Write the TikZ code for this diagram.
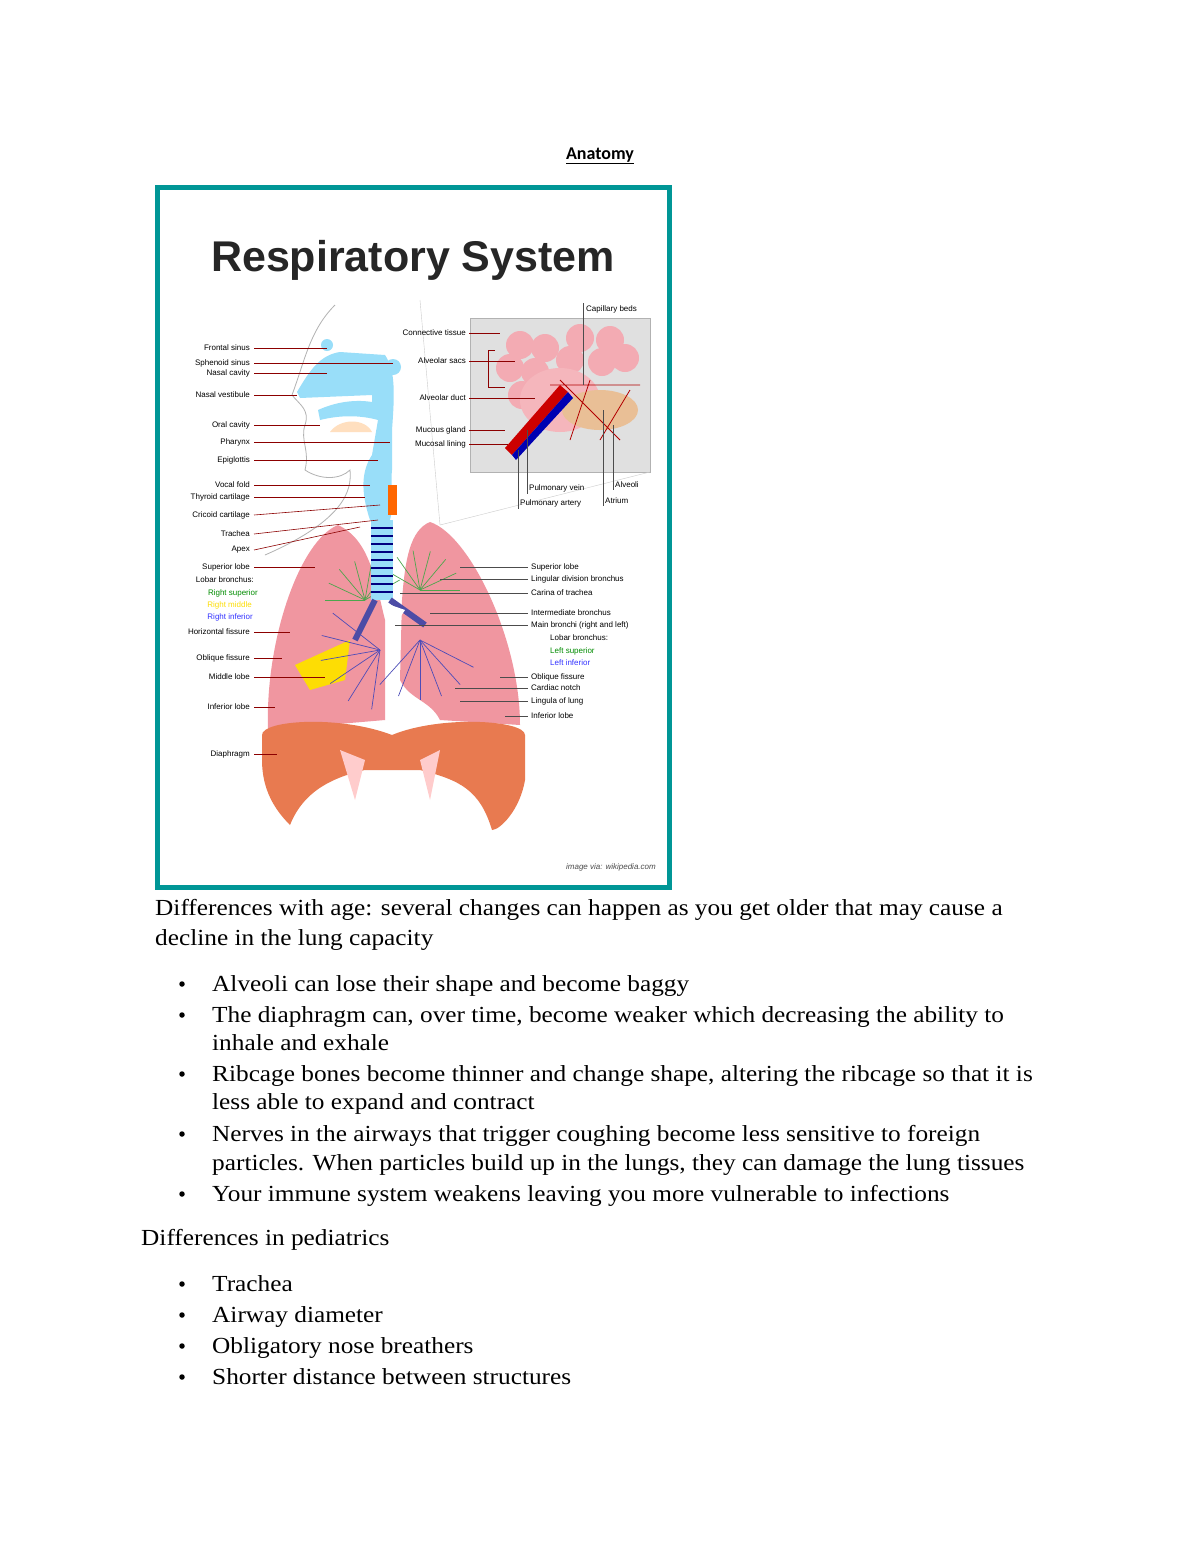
\documentclass[tikz,border=0pt]{standalone}
\usepackage{fontspec}
\setmainfont{Liberation Serif}
\newfontfamily\bodyfont[FakeStretch=1.1]{Liberation Serif}
\newfontfamily\labfont{Liberation Sans}
\newfontfamily\calfont{Carlito}
\definecolor{lungpink}{RGB}{240,150,160}
\definecolor{diaor}{RGB}{232,122,80}
\begin{document}
\begin{tikzpicture}[x=1pt,y=-1pt,
  L/.style={font=\labfont\fontsize{8}{9}\selectfont,anchor=east,inner sep=0pt},
  R/.style={font=\labfont\fontsize{8}{9}\selectfont,anchor=west,inner sep=0pt},
  ld/.style={draw=red!55!black,line width=0.6pt},
  kd/.style={draw=black!70,line width=0.6pt},
  body/.style={font=\bodyfont\fontsize{23}{30}\selectfont,anchor=base west,inner sep=0pt},
  bul/.style={circle,fill=black,inner sep=0pt,minimum size=5.5pt}]
\useasboundingbox (0,0) rectangle (1200,1553);
\fill[white] (0,0) rectangle (1200,1553);
\node[font=\calfont\fontsize{18}{20}\selectfont\bfseries,inner sep=0pt] (title) at (600,156) {\underline{Anatomy}};
\draw[draw={rgb,255:red,0;green,150;blue,150},line width=5pt] (157,187) rectangle (669,887);
\node[font=\labfont\bfseries\fontsize{43}{45}\selectfont,inner sep=0pt,text=black!85] (rt) at (413,260) {Respiratory System};
\node[font=\labfont\itshape\fontsize{8}{9}\selectfont,anchor=east,inner sep=0pt,text=black!70] (src) at (656,867) {image via: wikipedia.com};
% face outline
\draw[black!30,line width=0.8pt] (335,305) .. controls (310,330) and (305,360) .. (292,395) .. controls (300,405) and (310,410) .. (305,425) .. controls (300,440) and (310,450) .. (305,470) .. controls (320,480) and (340,480) .. (350,470) .. controls (352,490) and (345,520) .. (265,555);
% inset box
\fill[black!12] (470,318) rectangle (650,472);
\draw[black!30] (470,318) rectangle (650,472);
\draw[black!20] (420,300) -- (440,525) (440,525) -- (650,472);
% alveolar sacs
\foreach \cx/\cy in {520/345,545/348,510/368,535/372,522/395,580/338,610/340,570/360,602/362,625/358}
  \fill[lungpink!80] (\cx,\cy) circle (14);
\fill[lungpink!70] (560,400) ellipse (40 and 32);
\fill[orange!30!brown!50] (600,410) ellipse (38 and 20);
\draw[red!70!black,line width=0.8pt] (550,385) -- (640,385) (560,380) -- (620,440) (590,380) -- (570,440) (630,390)--(600,440);
\fill[red!80!black] (505,448) -- (560,385) -- (568,392) -- (512,455) -- cycle;
\fill[blue!70!black] (512,455) -- (568,392) -- (573,398) -- (516,460) -- cycle;
% airway blue
\fill[cyan!40] (327,345) circle (6);
\fill[cyan!40] (393,367) circle (8);
\fill[cyan!40] (297,392) .. controls (310,370) and (320,355) .. (340,352) -- (385,355) .. controls (395,370) and (395,390) .. (392,430) -- (392,470) .. controls (390,490) and (395,500) .. (390,520) -- (370,520) .. controls (360,490) and (362,470) .. (372,455) -- (378,420) .. controls (360,415) and (340,415) .. (320,420) -- (318,410) .. controls (340,400) and (360,400) .. (372,402) -- (372,395) -- (300,398) -- cycle;
\fill[orange!25] (330,432) .. controls (340,418) and (365,418) .. (372,432) -- cycle;
\fill[orange!80!red] (388,485) rectangle (397,515);
% lungs
\fill[lungpink] (338,525) .. controls (300,540) and (265,640) .. (268,730) -- (385,720) -- (385,620) .. controls (375,580) and (370,540) .. (338,525);
\fill[lungpink] (430,522) .. controls (470,535) and (520,640) .. (520,725) -- (440,720) .. controls (430,700) and (410,700) .. (400,680) -- (402,600) .. controls (405,560) and (410,530) .. (430,522);
\foreach \a in {0,25,...,150} {\draw[green!50!black!70,line width=0.7pt] (365,600) -- ++(180+\a:40); \draw[green!50!black!70,line width=0.7pt] (420,590) -- ++(-\a:40);}
\fill[yellow!80!orange] (295,665) -- (350,640) -- (345,680) -- (310,690) -- cycle;
\foreach \a in {10,40,...,160} {\draw[blue!60!black!70,line width=0.7pt] (380,650) -- ++(90+\a*0.8:60); \draw[blue!60!black!70,line width=0.7pt] (420,640) -- ++(20+\a*0.7:60);}
% trachea
\fill[cyan!40] (371,520) rectangle (393,600);
\foreach \yy in {528,536,...,596} \draw[blue!50!black,line width=2.5pt] (371,\yy) -- (393,\yy);
\draw[blue!50!black!70,line width=6pt] (375,600) -- (355,640) (390,600) -- (425,625);
\fill[white] (382,602) -- (395,625) -- (405,610) -- cycle;
% diaphragm
\fill[diaor] (262,735) .. controls (262,720) and (340,715) .. (392,735) .. controls (440,715) and (525,720) .. (525,735) -- (525,780) .. controls (520,810) and (500,830) .. (492,830) .. controls (480,790) and (460,780) .. (420,770) -- (400,770) -- (365,770) .. controls (320,780) and (300,800) .. (290,825) .. controls (275,810) and (262,790) .. (262,760) -- cycle;
\fill[red!20!white] (340,750) -- (355,800) -- (365,760) -- cycle;
\fill[red!20!white] (440,750) -- (430,800) -- (420,760) -- cycle;
% left labels
\foreach \t/\y/\tx/\ty in {Frontal sinus/348/327/348,Sphenoid sinus/363/393/363,Nasal cavity/373/327/373,Nasal vestibule/395/297/395,Oral cavity/425/320/425,Pharynx/442/390/442,Epiglottis/460/378/460,Vocal fold/485/370/485,Thyroid cartilage/497/365/497,Cricoid cartilage/515/380/505,Trachea/534/378/520,Apex/550/360/527,Superior lobe/567/315/567,Horizontal fissure/632/290/632,Oblique fissure/658/282/658,Middle lobe/677/325/677,Inferior lobe/707/275/707,Diaphragm/754/277/754}
 { \node[L] (l\y) at (250,\y) {\t}; \draw[ld] (l\y.east) ++(4,0) -- (\tx,\ty); }
\node[L] (lb) at (254,580) {Lobar bronchus:};
\node[L,text=green!55!black] (rs) at (258,593) {Right superior};
\node[L,text=yellow!80!orange] (rm) at (252,605) {Right middle};
\node[L,text=blue!80] (ri) at (253,617) {Right inferior};
% right labels
\foreach \t/\y/\tx in {Superior lobe/567/460,Lingular division bronchus/579/440,Carina of trachea/593/400,Intermediate bronchus/613/430,Main bronchi (right and left)/625/395,Oblique fissure/677/500,Cardiac notch/688/455,Lingula of lung/701/460,Inferior lobe/716/505}
 { \node[R] (r\y) at (531,\y) {\t}; \draw[kd] (\tx,\y) -- ([xshift=-3pt]r\y.west); }
\node[R] (rlb) at (550,638) {Lobar bronchus:};
\node[R,text=green!55!black] (ls) at (550,651) {Left superior};
\node[R,text=blue!80] (li) at (550,663) {Left inferior};
% inset labels
\foreach \t/\y/\tx in {Connective tissue/333/500,Alveolar duct/398/535,Mucous gland/430/505,Mucosal lining/444/508}
 { \node[L] (i\y) at (466,\y) {\t}; \draw[ld] ([xshift=3pt]i\y.east) -- (\tx,\y); }
\node[L] (isacs) at (466,361) {Alveolar sacs};
\draw[ld] ([xshift=3pt]isacs.east) -- (488,361) (495,350) -- (488,350) -- (488,387) -- (505,387) (488,361) -- (515,361);
\node[R] (cb) at (586,309) {Capillary beds};
\draw[kd] (583,303) -- (583,385);
\node[R] (pv) at (529,488) {Pulmonary vein};
\draw[kd] (527,430) -- (527,494);
\node[R] (pa) at (520,503) {Pulmonary artery};
\draw[kd] (518,450) -- (518,509);
\node[R] (alv) at (615,485) {Alveoli};
\draw[kd] (613,425) -- (613,490);
\node[R] (atr) at (605,501) {Atrium};
\draw[kd] (603,410) -- (603,506);
% body text
\node[body] (t1) at (155,915) {Differences with age: several changes can happen as you get older that may cause a};
\node[body] (t2) at (155,945) {decline in the lung capacity};
\foreach \y/\t in {991/Alveoli can lose their shape and become baggy,1022/The diaphragm can{,} over time{,} become weaker which decreasing the ability to,1050/inhale and exhale,1081/Ribcage bones become thinner and change shape{,} altering the ribcage so that it is,1109/less able to expand and contract,1141/Nerves in the airways that trigger coughing become less sensitive to foreign,1170/particles. When particles build up in the lungs{,} they can damage the lung tissues,1201/Your immune system weakens leaving you more vulnerable to infections}
  \node[body] (b\y) at (212,\y) {\t};
\foreach \y in {984,1015,1074,1134,1194,1284,1315,1346,1377} \node[bul] (d\y) at (182,\y) {};
\node[body] (t3) at (141,1245) {Differences in pediatrics};
\foreach \y/\t in {1291/Trachea,1322/Airway diameter,1353/Obligatory nose breathers,1384/Shorter distance between structures}
  \node[body] (p\y) at (212,\y) {\t};
\end{tikzpicture}
\end{document}
